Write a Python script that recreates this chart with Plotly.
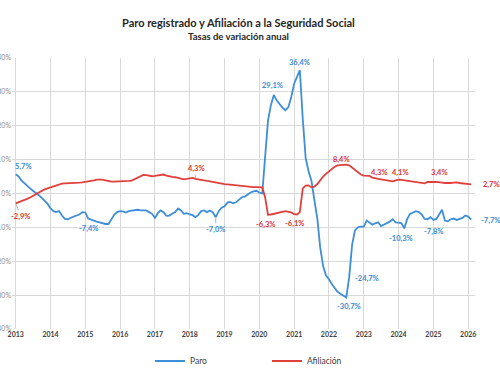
import pandas as pd
import plotly.graph_objects as go

# ---- data (monthly, Jan 2013 - Feb 2026), year-on-year % ----
paro_2013 = [5.7, 5.0, 3.9, 3.0, 2.3, 1.5, 0.8, 0.2, -0.5, -1.3, -2.1, -3.0]
paro_2014 = [-4.4, -5.2, -5.5, -5.2, -6.5, -7.5, -7.6, -7.1, -6.8, -6.5, -6.2, -5.5]
paro_2015 = [-5.6, -7.4, -7.6, -8.0, -8.3, -8.6, -8.8, -9.0, -9.0, -7.5, -6.3, -5.5]
paro_2016 = [-5.2, -5.3, -5.6, -5.2, -5.0, -4.8, -4.8, -5.0, -4.9, -5.0, -5.5, -6.0]
paro_2017 = [-7.2, -5.8, -5.0, -5.5, -6.6, -6.5, -6.0, -5.5, -4.4, -5.0, -6.0, -5.8]
paro_2018 = [-6.2, -6.4, -7.0, -6.3, -5.2, -5.0, -5.5, -5.0, -5.6, -7.0, -5.2, -4.2]
paro_2019 = [-3.8, -2.7, -2.5, -2.9, -2.6, -1.8, -1.1, -0.9, -0.2, 0.3, 0.6, 0.8]
paro_2020 = [0.3, 0.0, 10.5, 21.5, 26.0, 29.1, 27.5, 26.3, 25.3, 24.6, 25.5, 28.5]
paro_2021 = [32.5, 34.5, 36.4, 22.0, 10.5, 6.5, 3.8, -2.0, -7.5, -16.0, -21.5, -24.2]
paro_2022 = [-25.3, -26.8, -28.0, -29.0, -29.6, -30.3, -30.7, -24.7, -15.0, -10.9, -10.0, -9.8]
paro_2023 = [-9.8, -8.0, -8.5, -9.2, -8.8, -8.5, -9.6, -9.2, -8.8, -8.3, -7.6, -8.5]
paro_2024 = [-8.6, -8.8, -10.3, -7.5, -6.0, -5.6, -5.2, -5.5, -6.2, -7.5, -7.6, -7.0]
paro_2025 = [-7.8, -7.5, -6.0, -4.8, -8.0, -8.2, -7.6, -7.4, -7.8, -7.4, -7.2, -6.5]
paro_2026 = [-6.8, -7.7]

afil_2013 = [-2.9, -2.6, -2.4, -2.0, -1.6, -1.2, -0.8, -0.2, 0.3, 0.8, 1.2, 1.5]
afil_2014 = [1.8, 2.1, 2.4, 2.7, 2.9, 3.0, 3.0, 3.0, 3.0, 3.1, 3.2, 3.3]
afil_2015 = [3.4, 3.5, 3.7, 3.9, 4.1, 4.2, 4.1, 3.9, 3.6, 3.5, 3.5, 3.5]
afil_2016 = [3.5, 3.5, 3.6, 3.7, 3.8, 4.2, 4.7, 5.2, 5.5, 5.4, 5.2, 5.1]
afil_2017 = [5.2, 5.3, 5.5, 5.6, 5.3, 5.0, 4.9, 4.8, 4.6, 4.4, 4.2, 4.3]
afil_2018 = [4.5, 4.6, 4.3, 4.1, 4.0, 3.8, 3.7, 3.6, 3.4, 3.3, 3.2, 3.0]
afil_2019 = [2.8, 2.7, 2.6, 2.5, 2.4, 2.3, 2.2, 2.1, 2.0, 1.9, 1.9, 1.9]
afil_2020 = [1.9, 1.8, -1.0, -6.3, -6.2, -6.0, -5.8, -5.6, -5.4, -5.2, -5.4, -5.6]
afil_2021 = [-6.1, -6.2, -5.5, 1.5, 2.3, 2.4, 1.8, 2.0, 2.8, 4.0, 5.0, 5.8]
afil_2022 = [6.5, 7.3, 7.9, 8.3, 8.4, 8.6, 8.5, 8.3, 7.6, 6.9, 6.3, 5.6]
afil_2023 = [5.3, 5.3, 5.2, 4.7, 4.4, 4.3, 4.2, 4.0, 3.8, 3.6, 3.6, 3.9]
afil_2024 = [4.1, 4.0, 3.9, 3.7, 3.6, 3.4, 3.3, 3.2, 3.1, 3.0, 3.4, 3.5]
afil_2025 = [3.4, 3.4, 3.4, 3.2, 3.1, 3.0, 3.1, 3.2, 3.3, 3.1, 3.0, 2.8]
afil_2026 = [2.6, 2.7]

paro = (paro_2013 + paro_2014 + paro_2015 + paro_2016 + paro_2017 + paro_2018 + paro_2019
        + paro_2020 + paro_2021 + paro_2022 + paro_2023 + paro_2024 + paro_2025 + paro_2026)
afil = (afil_2013 + afil_2014 + afil_2015 + afil_2016 + afil_2017 + afil_2018 + afil_2019
        + afil_2020 + afil_2021 + afil_2022 + afil_2023 + afil_2024 + afil_2025 + afil_2026)
months = pd.date_range("2013-01-01", periods=len(paro), freq="MS")

# labelled points (index into series)
paro_labels = [0, 25, 69, 89, 98, 114, 115, 134, 144, len(paro) - 1]
afil_labels = [0, 62, 87, 96, 112, 125, 132, 146, len(afil) - 1]

BLUE = "#3f8fd8"
RED = "#e0403c"
BLUE_T = "#3a8ad4"
RED_T = "#d9332f"
FONT = "Lato"

fig = go.Figure()
fig.add_trace(go.Scatter(x=months, y=paro, mode="lines", name="Paro",
                         line=dict(color=BLUE, width=1.8)))
fig.add_trace(go.Scatter(x=months, y=afil, mode="lines", name="Afiliación",
                         line=dict(color=RED, width=1.8)))

def fmt(v):
    return f"{v:.1f}".replace(".", ",") + "%"

# label placement styles: (xshift, yshift, xanchor, leader)
paro_style = {
    0: (8, 8, "center", None),
    25: (0, -10, "center", None),
    69: (0, -12, "center", (0, 12)),
    89: (-1, 9, "center", None),
    98: (0, 8, "center", None),
    114: (3, -9, "center", None),
    115: (4, -1, "left", None),
    134: (-3, -10, "center", None),
    144: (0, -12, "center", None),
    len(paro) - 1: (8, -1, "left", None),
}
afil_style = {
    0: (5, -13, "center", (5, 13)),
    62: (1, 10, "center", (1, -10)),
    87: (-2, -10, "center", None),
    96: (0, -9, "center", None),
    112: (1, 6, "center", None),
    125: (1, 6, "center", None),
    132: (2, 7, "center", None),
    146: (0, 9, "center", None),
    len(afil) - 1: (10, 0, "left", None),
}

annotations = []
for series, idxs, styles, col in ((paro, paro_labels, paro_style, BLUE_T),
                                  (afil, afil_labels, afil_style, RED_T)):
    for i in idxs:
        xs, ys, anc, leader = styles[i]
        base = dict(x=months[i], y=series[i], xref="x", yref="y", text=fmt(series[i]),
                    font=dict(family=FONT, size=7.5, color=col, weight="bold"))
        if leader is not None:
            base.update(showarrow=True, arrowhead=0, arrowwidth=0.8, arrowcolor="#a0a0a0",
                        ax=leader[0], ay=leader[1], standoff=1)
        else:
            base.update(showarrow=False, xshift=xs, yshift=ys, xanchor=anc, yanchor="middle")
        annotations.append(base)

L, R, T, B = 12, 25, 58, 46
W, H = 500, 375
pw, ph = W - L - R, H - T - B

def px_to_paper(px, py):
    return (px - L) / pw, (H - B - py) / ph

tx, ty = px_to_paper(238, 22)
sx, sy = px_to_paper(238, 36)
annotations.append(dict(text="Paro registrado y Afiliación a la Seguridad Social",
                        x=tx, y=ty, xref="paper", yref="paper",
                        showarrow=False, xanchor="center", yanchor="middle",
                        font=dict(family=FONT, size=11, color="#262626", weight="bold")))
annotations.append(dict(text="Tasas de variación anual",
                        x=sx, y=sy, xref="paper", yref="paper",
                        showarrow=False, xanchor="center", yanchor="middle",
                        font=dict(family=FONT, size=9.5, color="#262626", weight="bold")))

lx, ly = px_to_paper(150, 361)
fig.update_layout(
    width=W, height=H,
    margin=dict(l=L, r=R, t=T, b=B, autoexpand=False),
    paper_bgcolor="white", plot_bgcolor="white",
    font=dict(family=FONT),
    annotations=annotations,
    showlegend=True,
    legend=dict(orientation="h", x=lx, y=ly,
                xanchor="left", yanchor="middle",
                font=dict(family=FONT, size=8.5, color="#404040"),
                entrywidth=72, bgcolor="rgba(0,0,0,0)"),
    xaxis=dict(type="date", range=["2012-11-23", "2026-03-13"],
               tick0="2013-01-01", dtick="M12", tickformat="%Y",
               showgrid=True, gridcolor="#d9d9d9", gridwidth=1,
               zeroline=False, showline=False, ticks="",
               tickfont=dict(family=FONT, size=7, color="#404040", weight="bold"),
               automargin=False),
    yaxis=dict(range=[-40, 40], dtick=10, ticksuffix="%",
               showgrid=True, gridcolor="#d9d9d9", gridwidth=1,
               zeroline=False, showline=False, ticks="",
               tickfont=dict(family=FONT, size=7, color="#8c8c8c"),
               automargin=False),
)

fig.write_html("out.html", config={"displayModeBar": False},
               post_script="document.body.style.margin='0';")
